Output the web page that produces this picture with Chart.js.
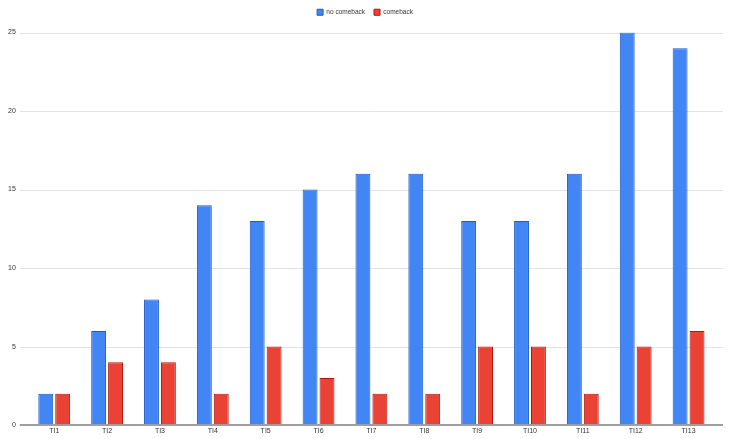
<!DOCTYPE html>
<html>
<head>
<meta charset="utf-8">
<script src="https://cdn.jsdelivr.net/npm/chart.js@4/dist/chart.umd.min.js"></script>
<style>
  html, body { margin: 0; padding: 0; background: #fff; }
  #wrap { width: 730px; height: 439px; }
</style>
</head>
<body>
<div id="wrap"><canvas id="chart"></canvas></div>
<script>
// data
const categories = ['TI1', 'TI2', 'TI3', 'TI4', 'TI5', 'TI6', 'TI7', 'TI8', 'TI9', 'TI10', 'TI11', 'TI12', 'TI13'];
const noComeback = [2, 6, 8, 14, 13, 15, 16, 16, 13, 13, 16, 25, 24];
const comeback = [2, 4, 4, 2, 5, 3, 2, 2, 5, 5, 2, 5, 6];
const yTicks = [0, 5, 10, 15, 20, 25];

const FONT = 'Arial, "Liberation Sans", sans-serif';
const GRID_EXTEND = 8; // gridlines run a bit past the bar area on both sides

// gridlines + baseline drawn wider than the chart area, like the original
const wideGrid = {
  id: 'wideGrid',
  beforeInit(chart) {
    const fit = chart.legend.fit;
    chart.legend.fit = function () {
      fit.call(this);
      this.height += 7;
    };
  },
  afterLayout(chart) {
    // centre the legend on the whole canvas, not on the padded area
    chart.legend.left += 5.5;
    chart.legend.right += 5.5;
  },
  beforeDatasetsDraw(chart) {
    const { ctx, chartArea, scales } = chart;
    ctx.save();
    ctx.strokeStyle = '#e3e3e3';
    ctx.lineWidth = 1;
    yTicks.forEach(v => {
      if (v === 0) return;
      const y = Math.round(scales.y.getPixelForValue(v)) + 0.5;
      ctx.beginPath();
      ctx.moveTo(chartArea.left - GRID_EXTEND, y);
      ctx.lineTo(chartArea.right + GRID_EXTEND, y);
      ctx.stroke();
    });
    ctx.restore();
  },
  afterDatasetsDraw(chart) {
    const { ctx, chartArea, scales } = chart;
    const y = scales.y.getPixelForValue(0);
    ctx.save();
    ctx.strokeStyle = '#9e9e9e';
    ctx.lineWidth = 2;
    ctx.beginPath();
    ctx.moveTo(chartArea.left - GRID_EXTEND, y);
    ctx.lineTo(chartArea.right + GRID_EXTEND, y);
    ctx.stroke();
    ctx.restore();
  }
};

const ctx = document.getElementById('chart');
new Chart(ctx, {
  type: 'bar',
  data: {
    labels: categories,
    datasets: [
      {
        label: 'no comeback',
        data: noComeback,
        backgroundColor: '#4285f4',
        borderColor: '#1c5bc8',
        borderWidth: 1,
        borderSkipped: false,
        barPercentage: 0.88,
        categoryPercentage: 0.64
      },
      {
        label: 'comeback',
        data: comeback,
        backgroundColor: '#ea4335',
        borderColor: '#b5140c',
        borderWidth: 1,
        borderSkipped: false,
        barPercentage: 0.88,
        categoryPercentage: 0.64
      }
    ]
  },
  options: {
    responsive: true,
    maintainAspectRatio: false,
    animation: false,
    layout: { padding: { left: 4, right: 15, top: 0, bottom: 1.5 } },
    plugins: {
      legend: {
        position: 'top',
        labels: {
          boxWidth: 6,
          boxHeight: 6,
          padding: 9,
          color: '#333',
          font: { family: FONT, size: 6.5 }
        }
      },
      tooltip: { enabled: false }
    },
    scales: {
      x: {
        grid: { display: false, drawTicks: false },
        border: { display: false },
        ticks: {
          color: '#333',
          padding: 2,
          font: { family: FONT, size: 7 }
        }
      },
      y: {
        min: 0,
        max: 25,
        afterBuildTicks: (axis) => { axis.ticks = yTicks.map(v => ({ value: v })); },
        grid: { display: false },
        border: { display: false },
        ticks: {
          color: '#333',
          padding: 4,
          font: { family: FONT, size: 7 }
        }
      }
    }
  },
  plugins: [wideGrid]
});
</script>
</body>
</html>
